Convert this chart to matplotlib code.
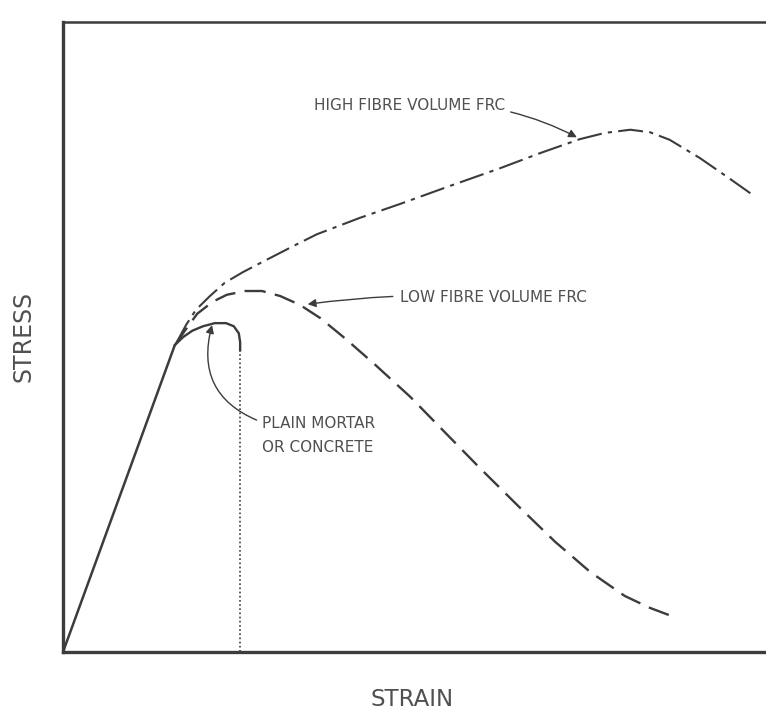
import numpy as np
import matplotlib
matplotlib.use("Agg")
import matplotlib.pyplot as plt

# ---- data (arbitrary strain / stress units, 0-100) ----
linear_x = [0.0, 15.9]
linear_y = [0.0, 48.7]

plain_x = [15.9, 17.1, 18.4, 19.9, 21.6, 23.2, 24.3, 25.0, 25.2, 25.2]
plain_y = [48.7, 50.0, 51.0, 51.7, 52.2, 52.2, 51.7, 50.6, 49.2, 47.9]
plain_drop_x = [25.2, 25.2]
plain_drop_y = [47.9, 0.0]

low_x = [15.9, 17.4, 19.1, 21.3, 23.3, 25.9, 28.3, 30.9, 33.7, 36.6, 40.1,
         44.4, 49.4, 54.3, 59.3, 65.0, 70.0, 75.0, 79.9, 83.5, 87.3]
low_y = [48.7, 51.1, 53.7, 55.6, 56.7, 57.3, 57.3, 56.5, 55.1, 53.0, 49.8,
         45.6, 40.5, 34.9, 29.2, 22.9, 17.5, 12.7, 8.9, 7.0, 5.4]

high_x = [16.2, 17.5, 18.9, 20.9, 23.0, 25.6, 28.0, 32.7, 36.1, 42.2, 47.9,
          55.1, 62.2, 67.9, 73.5, 77.1, 80.7, 83.5, 86.3, 90.6, 94.5, 98.3]
high_y = [49.2, 51.9, 54.3, 56.5, 58.6, 60.3, 61.7, 64.4, 66.3, 68.9, 71.1,
          74.0, 76.8, 79.2, 81.4, 82.4, 82.9, 82.5, 81.3, 78.4, 75.4, 72.4]

label_high = "HIGH FIBRE VOLUME FRC"
label_low = "LOW FIBRE VOLUME FRC"
label_plain = "PLAIN MORTAR\nOR CONCRETE"
xlabel = "STRAIN"
ylabel = "STRESS"

ink = "#3c3c3c"
text_ink = "#505050"

fig = plt.figure(figsize=(7.66, 7.13), dpi=100)
ax = fig.add_axes([63 / 766, (713 - 652) / 713, (766 - 63) / 766, (652 - 22) / 713])
ax.set_xlim(0, 100)
ax.set_ylim(0, 100)
ax.set_xticks([])
ax.set_yticks([])
for s in ["left", "bottom"]:
    ax.spines[s].set_linewidth(2.4)
    ax.spines[s].set_color(ink)
ax.spines["top"].set_linewidth(1.8)
ax.spines["top"].set_color(ink)
ax.spines["right"].set_visible(False)

ax.plot(linear_x, linear_y, color=ink, lw=1.8, solid_capstyle="round")
ax.plot(plain_x, plain_y, color=ink, lw=1.7, solid_joinstyle="round")
ax.plot(plain_drop_x, plain_drop_y, color=ink, lw=1.2, ls=(0, (1, 1.5)))
ax.plot(low_x, low_y, color=ink, lw=1.7, ls=(0, (9, 4)))
ax.plot(high_x, high_y, color=ink, lw=1.5, ls=(0, (12, 3, 2, 3)))

txt_kw = dict(color=text_ink, fontsize=11, family="DejaVu Sans")

ax.annotate(label_high, xy=(73.1, 81.7), xytext=(62.9, 86.8),
            ha="right", va="center", **txt_kw,
            arrowprops=dict(arrowstyle="-|>", color=ink, lw=1.0,
                            connectionstyle="arc3,rad=-0.15", shrinkA=2, shrinkB=0,
                            mutation_scale=12))

ax.annotate(label_low, xy=(34.8, 55.2), xytext=(47.9, 56.3),
            ha="left", va="center", **txt_kw,
            arrowprops=dict(arrowstyle="-|>", color=ink, lw=1.0,
                            connectionstyle="arc3,rad=0.05", shrinkA=3, shrinkB=0,
                            mutation_scale=12))

ax.annotate(label_plain, xy=(21.2, 51.9), xytext=(28.3, 34.3),
            ha="left", va="center", linespacing=1.75, **txt_kw,
            arrowprops=dict(arrowstyle="-|>", color=ink, lw=1.0,
                            connectionstyle="arc3,rad=-0.45", shrinkA=2, shrinkB=0,
                            mutation_scale=12, relpos=(0.0, 0.85)))

fig.text(412 / 766, 1 - 699 / 713, xlabel, ha="center", va="center",
         color=text_ink, fontsize=16.5)
fig.text(24 / 766, 1 - 336 / 713, ylabel, ha="center", va="center",
         rotation=90, color=text_ink, fontsize=17)

fig.savefig("out.png", dpi=100, facecolor="white")
